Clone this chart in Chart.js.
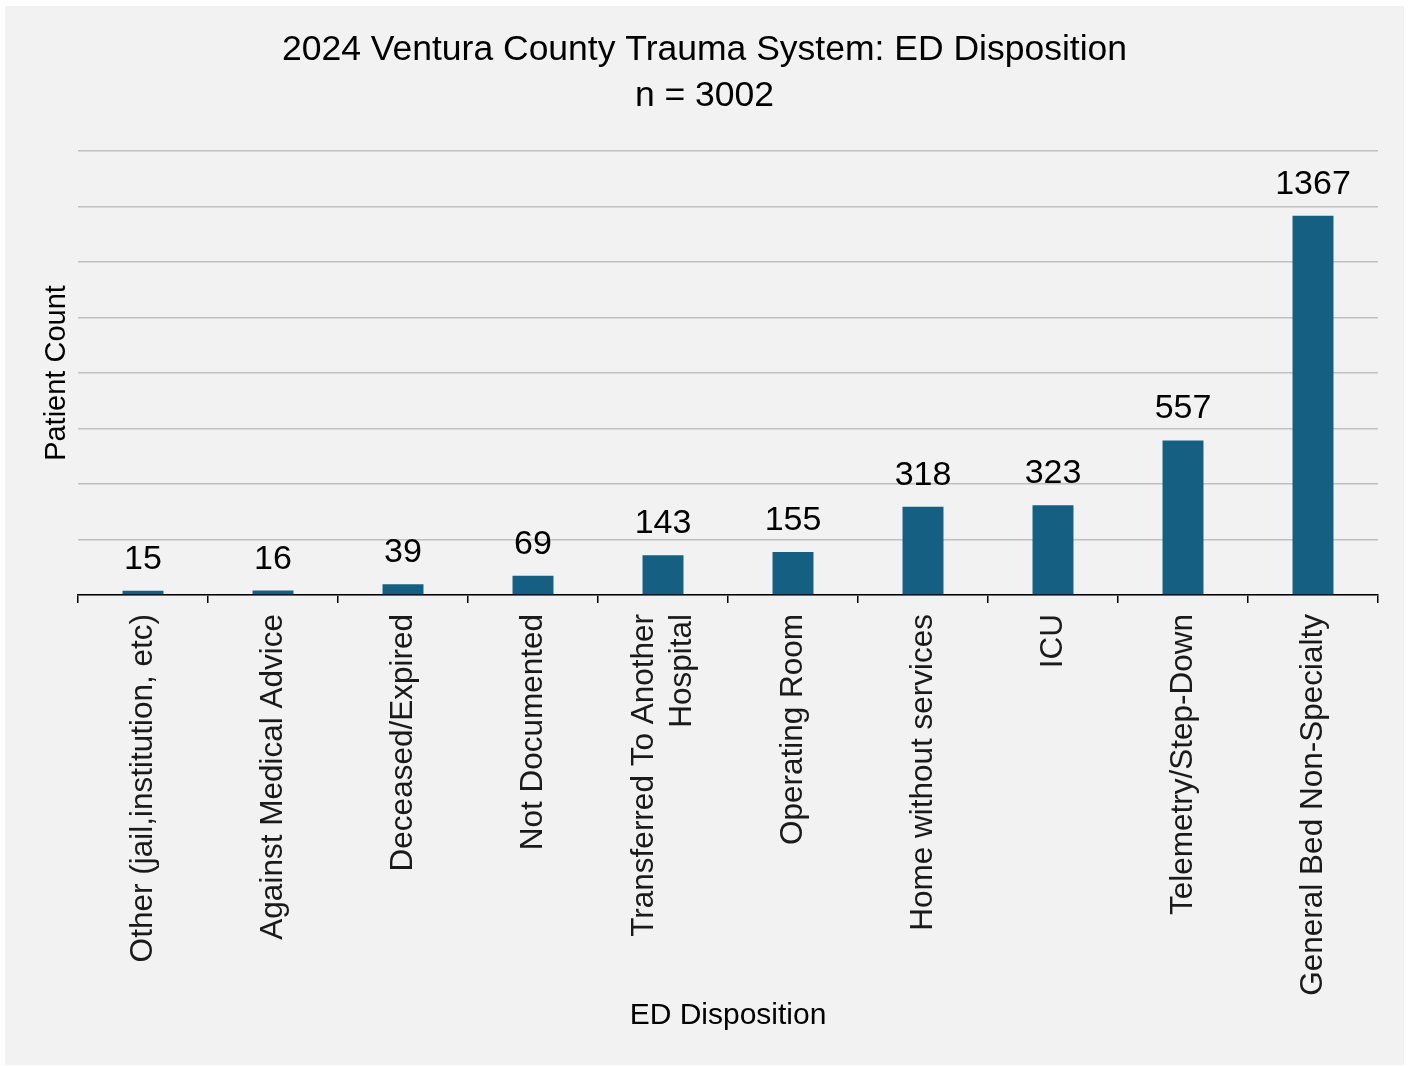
<!DOCTYPE html>
<html>
<head>
<meta charset="utf-8">
<script src="https://cdn.jsdelivr.net/npm/chart.js@4"></script>
<style>
  body { margin: 0; background: #ffffff; }
  #wrap { position: absolute; left: 5px; top: 6px; width: 1399px; height: 1059px; background: #f2f2f2; }
</style>
</head>
<body>
<div id="wrap"><canvas id="myChart" width="1399" height="1059"></canvas></div>
<script>
const categories = [
    'Other (jail,institution, etc)',
    'Against Medical Advice',
    'Deceased/Expired',
    'Not Documented',
    ['Transferred To Another', 'Hospital'],
    'Operating Room',
    'Home without services',
    'ICU',
    'Telemetry/Step-Down',
    'General Bed Non-Specialty'
];
const patientCounts = [15, 16, 39, 69, 143, 155, 318, 323, 557, 1367];
const titleLines = ['2024 Ventura County Trauma System: ED Disposition', 'n = 3002'];

const FONT = "'Liberation Sans', Arial, sans-serif";
const TICK_SIZE = 31.5;
const TICK_LH = 1.2;

// value labels above each bar
const barLabels = {
    id: 'barLabels',
    afterDatasetsDraw(chart) {
        const ctx = chart.ctx;
        const meta = chart.getDatasetMeta(0);
        ctx.save();
        ctx.font = '34px ' + FONT;
        ctx.fillStyle = '#000000';
        ctx.textAlign = 'center';
        ctx.textBaseline = 'alphabetic';
        meta.data.forEach(function(bar, i) {
            ctx.fillText(String(chart.data.datasets[0].data[i]), bar.x, bar.y - 22);
        });
        ctx.restore();
    }
};

// center multi-line rotated tick labels on their tick (Chart.js puts the first line on it)
const centerWrapped = {
    id: 'centerWrapped',
    beforeDraw(chart) {
        const scale = chart.scales.x;
        const items = scale.getLabelItems();
        items.forEach(function(item) {
            if (Array.isArray(item.label) && !item._shifted) {
                const lines = item.label.length;
                item.options.translation[0] -= (lines - 1) * TICK_SIZE * TICK_LH / 2;
                item._shifted = true;
            }
        });
    }
};

window.onload = function() {
    const ctx = document.getElementById('myChart').getContext('2d');
    new Chart(ctx, {
        type: 'bar',
        data: {
            labels: categories,
            datasets: [{
                label: 'Patient Count',
                data: patientCounts,
                backgroundColor: '#156082',
                barPercentage: 0.315,
                categoryPercentage: 1
            }]
        },
        plugins: [barLabels, centerWrapped],
        options: {
            responsive: false,
            animation: false,
            layout: { padding: { left: 26, right: 26, top: 0, bottom: 0 } },
            plugins: {
                legend: { display: false },
                tooltip: { enabled: false },
                title: {
                    display: true,
                    text: titleLines,
                    color: '#000000',
                    font: { family: FONT, size: 35.5, weight: 'normal', lineHeight: 1.296 },
                    padding: { top: 21, bottom: 32 }
                }
            },
            scales: {
                x: {
                    grid: {
                        display: true,
                        drawOnChartArea: false,
                        drawTicks: true,
                        tickLength: 8,
                        color: '#000000',
                        lineWidth: 1.5
                    },
                    border: { display: true, color: '#000000', width: 1.5 },
                    ticks: {
                        color: '#1a1a1a',
                        font: { family: FONT, size: TICK_SIZE, lineHeight: TICK_LH },
                        minRotation: 90,
                        maxRotation: 90,
                        autoSkip: false,
                        padding: 11
                    },
                    title: {
                        display: true,
                        text: 'ED Disposition',
                        color: '#000000',
                        font: { family: FONT, size: 30, lineHeight: 1.2 },
                        padding: { top: 0, bottom: 31 }
                    },
                    afterFit(scale) { scale.height = 470; }
                },
                y: {
                    min: 0,
                    max: 1600,
                    ticks: { display: false, stepSize: 200 },
                    grid: { color: '#c0c0c0', lineWidth: 1.5, drawTicks: false },
                    border: { display: false },
                    title: {
                        display: true,
                        text: 'Patient Count',
                        color: '#000000',
                        font: { family: FONT, size: 29, lineHeight: 1.2 },
                        padding: { top: 8.6, bottom: 0 }
                    },
                    afterFit(scale) { scale.width = 47; }
                }
            }
        }
    });
};
</script>
</body>
</html>
